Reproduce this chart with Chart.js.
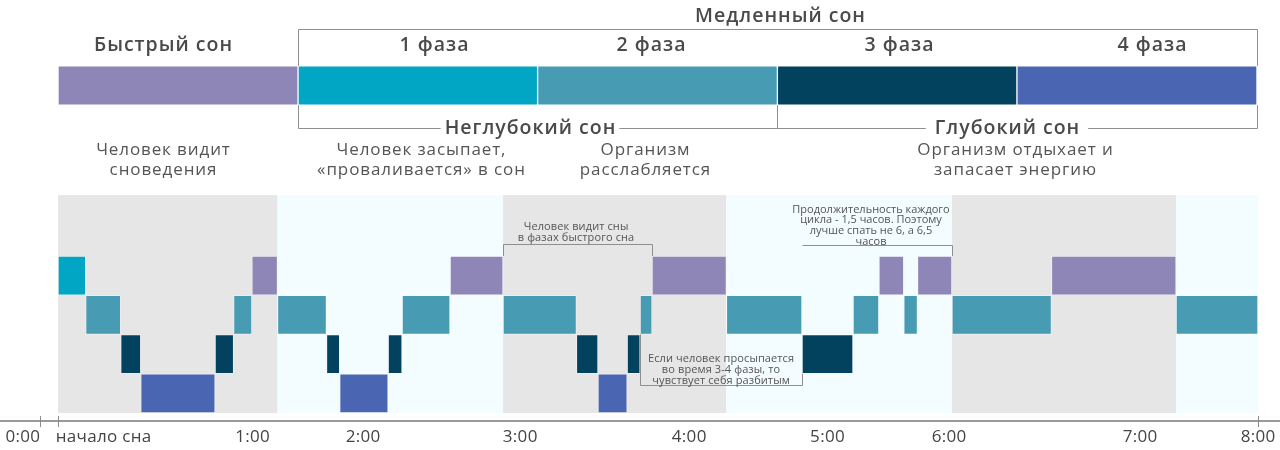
<!DOCTYPE html>
<html><head><meta charset="utf-8">
<script src="https://cdn.jsdelivr.net/npm/chart.js@4"></script>
<style>html,body{margin:0;padding:0;background:#fff}#wrap{width:1280px;height:450px}</style>
</head><body><div id="wrap"><canvas id="c" width="1280" height="450"></canvas></div>
<script>
// ================= DATA =================
const phaseNames = ['Быстрый сон', '1 фаза', '2 фаза', '3 фаза', '4 фаза'];
const phaseRow = [3.5, 3.5, 2.5, 1.5, 0.5];          // depth level of each phase in the hypnogram
const legendEdges = [7.1, 101.7, 196.1, 290.6, 385.0, 479.6];
const legendLevel = 8.34;
// hypnogram: block i spans stageBounds[i]..stageBounds[i+1], phase stagePhase[i]
const stageBounds = [7.1, 18.0, 31.8, 39.7, 69.0, 76.3, 83.5, 93.6, 112.9, 118.1, 137.2, 142.7, 161.6, 182.5,
  211.4, 219.9, 231.4, 236.5, 241.2, 270.5, 300.3, 320.4, 330.6, 340.4, 345.8, 359.4, 398.6, 447.7, 480];
const stagePhase = [1, 2, 3, 4, 3, 2, 0, 2, 3, 4, 3, 2, 0, 2, 3, 4, 3, 2, 0, 2, 3, 2, 0, 2, 0, 2, 0, 2];
// sleep-cycle background bands
const bandBounds = [7.1, 93.6, 182.5, 270.5, 359.4, 447.7, 480];
const bandTop = 5.55;
// time axis
const tickLabels = ['0:00', 'начало сна', '1:00', '2:00', '3:00', '4:00', '5:00', '6:00', '7:00', '8:00'];
const tickValues = [0, 7.0, 83.7, 127.3, 189.2, 255.8, 310.3, 358.2, 433.5, 480];
const tickMarked = [0, 7.0, 480];
// texts
const groupTitle = 'Медленный сон';
const bracketTitles = ['Неглубокий сон', 'Глубокий сон'];
const phaseDescriptions = [
  ['Человек видит', 'сноведения'],
  ['Человек засыпает,', '«проваливается» в сон'],
  ['Организм', 'расслабляется'],
  ['Организм отдыхает и', 'запасает энергию']
];
const noteRem = ['Человек видит сны', 'в фазах быстрого сна'];
const noteCycle = ['Продолжительность каждого', 'цикла - 1,5 часов. Поэтому', 'лучше спать не 6, а 6,5', 'часов'];
const noteWake = ['Если человек просыпается', 'во время 3-4 фазы, то', 'чувствует себя разбитым'];

// ================= STYLE =================
const phaseColors = ['#8E86B6', '#00A6C3', '#479BB3', '#03425F', '#4A66B3'];
const bandColors = ['#E6E6E6', '#F3FDFF'];
const FONT = '"Open Sans", "Noto Sans", sans-serif';
const lineColor = '#8f8f8f';

const hypnoData = stagePhase.map((p, i) => ({ x: [stageBounds[i], stageBounds[i + 1]], y: phaseRow[p] }));
const legendData = phaseNames.map((n, i) => ({ x: [legendEdges[i], legendEdges[i + 1]], y: legendLevel }));

function txt(ctx, s, x, y, font, color, align, spacing) {
  ctx.font = font; ctx.fillStyle = color; ctx.textBaseline = 'alphabetic';
  ctx.letterSpacing = (spacing || 0) + 'px';
  const w = ctx.measureText(s).width - (spacing || 0);
  let x0 = x;
  if (!align || align === 'center') x0 = x - w / 2;
  else if (align === 'right') x0 = x - w;
  ctx.textAlign = 'left';
  ctx.fillText(s, x0, y);
  ctx.letterSpacing = '0px';
  return w;
}
function seg(ctx, pts, color, w) {
  ctx.beginPath(); ctx.strokeStyle = color; ctx.lineWidth = w || 1;
  ctx.moveTo(pts[0][0], pts[0][1]);
  for (let i = 1; i < pts.length; i++) ctx.lineTo(pts[i][0], pts[i][1]);
  ctx.stroke();
}

const decor = {
  id: 'decor',
  beforeDraw(chart) {
    const ctx = chart.ctx; ctx.save(); ctx.fillStyle = '#fff'; ctx.fillRect(0, 0, chart.width, chart.height); ctx.restore();
  },
  beforeDatasetsDraw(chart) {
    const { ctx, scales: { x, y } } = chart;
    ctx.save();
    for (let i = 0; i < bandBounds.length - 1; i++) {
      const x0 = x.getPixelForValue(bandBounds[i]), x1 = x.getPixelForValue(bandBounds[i + 1]);
      const y0 = y.getPixelForValue(bandTop), y1 = y.getPixelForValue(0);
      ctx.fillStyle = bandColors[i % 2];
      ctx.fillRect(x0, y0, x1 - x0, y1 - y0);
    }
    ctx.restore();
  },
  afterDatasetsDraw(chart) {
    const { ctx, scales: { x, y } } = chart;
    ctx.save();
    const E = legendEdges.map(v => Math.round(x.getPixelForValue(v)) + 0.5);
    const barTop = y.getPixelForValue(legendLevel + 0.5), barBot = y.getPixelForValue(legendLevel - 0.5);
    const bold = '600 19.5px ' + FONT;
    const SP = 1;
    // top group bracket
    seg(ctx, [[E[1], barTop], [E[1], 29.5], [E[5], 29.5], [E[5], barTop]], lineColor, 1);
    txt(ctx, groupTitle, 780, 22, bold, '#4a4a4a', 'center', SP);
    const labelX = [163, 434, 651, 899, 1152];
    phaseNames.forEach((n, i) => txt(ctx, n, labelX[i], 51, bold, '#4a4a4a', 'center', SP));
    // lower brackets
    const by = 128.5;
    const t1x = 530, t2x = 1007;
    ctx.font = bold; ctx.letterSpacing = SP + 'px';
    const w1 = (ctx.measureText(bracketTitles[0]).width - SP) / 2 + 4;
    const w2 = (ctx.measureText(bracketTitles[1]).width - SP) / 2 + 9;
    ctx.letterSpacing = '0px';
    seg(ctx, [[E[1], barBot], [E[1], by], [t1x - w1, by]], lineColor, 1);
    seg(ctx, [[t1x + w1, by], [E[3], by], [E[3], barBot]], lineColor, 1);
    seg(ctx, [[E[3], by], [t2x - w2, by]], lineColor, 1);
    seg(ctx, [[t2x + w2, by], [E[5], by], [E[5], barBot]], lineColor, 1);
    txt(ctx, bracketTitles[0], t1x, 134, bold, '#4a4a4a', 'center', SP);
    txt(ctx, bracketTitles[1], t2x, 134, bold, '#4a4a4a', 'center', SP);
    // descriptions
    const descX = [163, 421, 645, 1015];
    const reg = '17px ' + FONT;
    phaseDescriptions.forEach((d, i) => d.forEach((l, j) => txt(ctx, l, descX[i], 155 + j * 19.5, reg, '#555', 'center', 0.9)));
    // annotations inside hypnogram
    const small = '11px ' + FONT;
    const topRow = y.getPixelForValue(4), r3bot = y.getPixelForValue(1), r2bot = y.getPixelForValue(2);
    const xa = Math.round(x.getPixelForValue(stageBounds[13])) + 0.5, xb = Math.round(x.getPixelForValue(stageBounds[18])) + 0.5;
    seg(ctx, [[xa, topRow], [xa, 244.5], [xb, 244.5], [xb, topRow]], lineColor, 1);
    noteRem.forEach((l, j) => txt(ctx, l, 576, 230 + j * 11, small, '#555', 'center', 0.1));
    const xc = Math.round(x.getPixelForValue(stageBounds[20])) + 0.5, xd = Math.round(x.getPixelForValue(stageBounds[25])) + 0.5;
    noteCycle.forEach((l, j) => txt(ctx, l, 871, 212.5 + j * 10.7, small, '#555', 'center', 0));
    seg(ctx, [[xc, 245.5], [xd, 245.5], [xd, topRow]], lineColor, 1);
    const xe = Math.round(x.getPixelForValue(stageBounds[17])) + 0.5;
    seg(ctx, [[xe, r2bot], [xe, 385.5], [xc, 385.5], [xc, r3bot]], lineColor, 1);
    noteWake.forEach((l, j) => txt(ctx, l, 721, 361.5 + j * 11, small, '#555', 'center', 0.1));
    // time axis
    const ay = 421;
    seg(ctx, [[0, ay], [chart.width, ay]], '#9a9a9a', 2);
    tickMarked.forEach(v => { const px = Math.round(x.getPixelForValue(v)) + 0.5; seg(ctx, [[px, 416], [px, 427]], '#8a8a8a', 1); });
    const tf = '17px ' + FONT;
    tickLabels.forEach((l, i) => {
      const px = x.getPixelForValue(tickValues[i]);
      if (i === 0) txt(ctx, l, px, 442, tf, '#444', 'right', 0.3);
      else if (i === 1) txt(ctx, l, px - 2, 442, tf, '#444', 'left', 0.3);
      else txt(ctx, l, px, 442, tf, '#444', 'center', 0.3);
    });
    ctx.restore();
  }
};

new Chart(document.getElementById('c'), {
  type: 'bar',
  data: {
    datasets: [
      { label: 'Фазы сна', data: hypnoData, backgroundColor: stagePhase.map(p => phaseColors[p]),
        borderColor: 'rgba(255,255,255,0.3)', borderWidth: 1, borderSkipped: false, grouped: false,
        barPercentage: 1, categoryPercentage: 1 },
      { label: 'Легенда', data: legendData, backgroundColor: phaseColors,
        borderColor: 'rgba(255,255,255,0.45)', borderWidth: 1, borderSkipped: false, grouped: false,
        barPercentage: 1, categoryPercentage: 1 }
    ]
  },
  options: {
    indexAxis: 'y',
    responsive: false,
    animation: false,
    layout: { padding: { left: 40, right: 22, top: 0, bottom: 37 } },
    plugins: { legend: { display: false }, tooltip: { enabled: false } },
    scales: {
      x: { type: 'linear', min: 0, max: 480, display: false, offset: false },
      y: { type: 'linear', min: 0, max: 10.52, display: false, offset: false,
        afterBuildTicks: s => { s.ticks = [0, 1, 2, 3, 4, 5, 6, 7, 8, 9, 10].map(v => ({ value: v })); } }
    }
  },
  plugins: [decor]
});
</script></body></html>
